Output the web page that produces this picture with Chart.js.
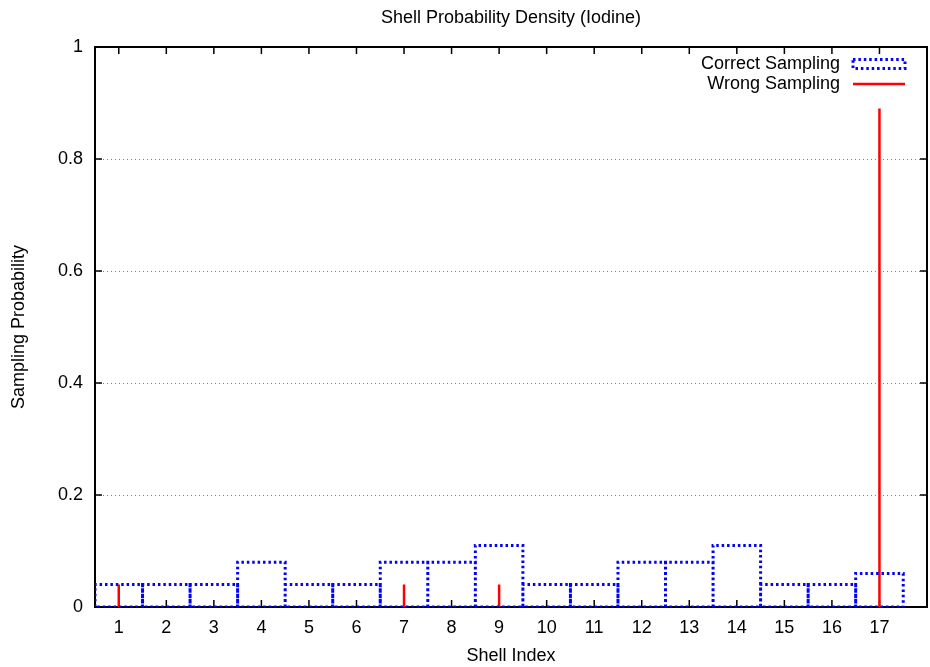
<!DOCTYPE html>
<html>
<head>
<meta charset="utf-8">
<script src="https://cdn.jsdelivr.net/npm/chart.js@4/dist/chart.umd.min.js"></script>
<style>
  html, body { margin: 0; padding: 0; background: #fff; }
  #wrap { width: 930px; height: 667px; }
</style>
</head>
<body>
<div id="wrap"><canvas id="c" width="930" height="667"></canvas></div>
<script>
// Shell indices and sampling probabilities
const shells = [1, 2, 3, 4, 5, 6, 7, 8, 9, 10, 11, 12, 13, 14, 15, 16, 17];
const correctSampling = [0.04, 0.04, 0.04, 0.08, 0.04, 0.04, 0.08, 0.08, 0.11, 0.04, 0.04, 0.08, 0.08, 0.11, 0.04, 0.04, 0.06];
const wrongSampling   = [0.04, 0, 0, 0, 0, 0, 0.04, 0, 0.04, 0, 0, 0, 0, 0, 0, 0, 0.89];
const yTicks = [0, 0.2, 0.4, 0.6, 0.8, 1];

const FONT = '"Liberation Sans", Arial, Helvetica, sans-serif';
const FSIZE = 18;

// Outline of each box (unit width, centred on the shell index), broken with nulls
const boxPoints = [];
shells.forEach((s, i) => {
  const l = s - 0.5, r = s + 0.5, v = correctSampling[i];
  boxPoints.push({x: l, y: 0}, {x: l, y: v}, {x: r, y: v}, {x: r, y: 0}, {x: l, y: 0}, {x: s, y: null});
});

// Vertical impulses for the wrong sampling
const impulsePoints = [];
shells.forEach((s, i) => {
  if (wrongSampling[i] > 0) {
    impulsePoints.push({x: s, y: 0}, {x: s, y: wrongSampling[i]}, {x: s, y: null});
  }
});

const DOT = [2.5, 2.9];

// Frame, inward ticks, dotted grid, title and key
const decor = {
  id: 'decor',
  beforeDatasetsDraw(chart) {
    const {ctx, chartArea: a, scales: {x, y}} = chart;
    ctx.save();
    ctx.strokeStyle = '#808080';
    ctx.lineWidth = 1;
    ctx.setLineDash([1, 3]);
    yTicks.forEach(t => {
      if (t <= 0 || t >= 1) return;
      const py = Math.round(y.getPixelForValue(t)) + 0.5;
      ctx.beginPath(); ctx.moveTo(a.left, py); ctx.lineTo(a.right, py); ctx.stroke();
    });
    ctx.setLineDash([]);
    ctx.strokeStyle = '#000';
    ctx.lineWidth = 1.5;
    const tl = 7;
    ctx.beginPath();
    yTicks.forEach(t => {
      const py = y.getPixelForValue(t);
      ctx.moveTo(a.left, py); ctx.lineTo(a.left + tl, py);
      ctx.moveTo(a.right, py); ctx.lineTo(a.right - tl, py);
    });
    shells.forEach(s => {
      const px = x.getPixelForValue(s);
      ctx.moveTo(px, a.bottom); ctx.lineTo(px, a.bottom - tl);
      ctx.moveTo(px, a.top); ctx.lineTo(px, a.top + tl);
    });
    ctx.stroke();
    ctx.lineWidth = 2;
    ctx.strokeRect(a.left, a.top, a.right - a.left, a.bottom - a.top);
    ctx.restore();
  },
  afterDatasetsDraw(chart) {
    const {ctx, chartArea: a} = chart;
    ctx.save();
    // Title
    ctx.fillStyle = '#000';
    ctx.font = FSIZE + 'px ' + FONT;
    ctx.textAlign = 'center';
    ctx.textBaseline = 'middle';
    ctx.fillText('Shell Probability Density (Iodine)', (a.left + a.right) / 2, 18);

    // Key
    const keyTextX = 840, sx0 = 853, sx1 = 905;
    const rows = [
      {label: 'Correct Sampling', y: 64},
      {label: 'Wrong Sampling', y: 84}
    ];
    ctx.textAlign = 'right';
    rows.forEach(r => ctx.fillText(r.label, keyTextX, r.y));
    ctx.strokeStyle = '#0000ff';
    ctx.lineWidth = 3;
    ctx.setLineDash(DOT);
    ctx.strokeRect(sx0, 59.5, sx1 - sx0, 9);
    ctx.setLineDash([]);
    ctx.strokeStyle = '#ff0000';
    ctx.lineWidth = 2.5;
    ctx.beginPath(); ctx.moveTo(sx0, 84); ctx.lineTo(sx1, 84); ctx.stroke();
    ctx.restore();
  }
};

new Chart(document.getElementById('c'), {
  type: 'line',
  data: {
    datasets: [
      {
        label: 'Correct Sampling',
        data: boxPoints,
        borderColor: '#0000ff',
        borderWidth: 3,
        borderDash: DOT,
        pointRadius: 0,
        tension: 0,
        spanGaps: false,
        fill: false
      },
      {
        label: 'Wrong Sampling',
        data: impulsePoints,
        borderColor: '#ff0000',
        borderWidth: 2.5,
        pointRadius: 0,
        tension: 0,
        spanGaps: false,
        fill: false
      }
    ]
  },
  options: {
    responsive: false,
    animation: false,
    layout: { padding: { top: 47, right: 3, left: 0, bottom: 0 } },
    plugins: {
      legend: { display: false },
      title: { display: false },
      tooltip: { enabled: false }
    },
    scales: {
      x: {
        type: 'linear',
        min: 0.5,
        max: 18,
        grid: { display: false },
        border: { display: false },
        afterBuildTicks: (scale) => { scale.ticks = shells.map(v => ({value: v})); },
        afterFit: (scale) => { scale.height = 60; },
        ticks: {
          color: '#000',
          font: { family: FONT, size: FSIZE },
          padding: 2,
          maxRotation: 0,
          autoSkip: false,
          callback: (v) => String(v)
        },
        title: {
          display: true,
          text: 'Shell Index',
          color: '#000',
          font: { family: FONT, size: FSIZE },
          padding: { top: 0, bottom: 0 }
        }
      },
      y: {
        type: 'linear',
        min: 0,
        max: 1,
        grid: { display: false },
        border: { display: false },
        afterBuildTicks: (scale) => { scale.ticks = yTicks.map(v => ({value: v})); },
        afterFit: (scale) => { scale.width = 95; },
        ticks: {
          color: '#000',
          font: { family: FONT, size: FSIZE },
          padding: 4,
          callback: (v) => String(v)
        },
        title: {
          display: true,
          text: 'Sampling Probability',
          color: '#000',
          font: { family: FONT, size: FSIZE },
          padding: { top: 8, bottom: 0 }
        }
      }
    }
  },
  plugins: [decor]
});
</script>
</body>
</html>
